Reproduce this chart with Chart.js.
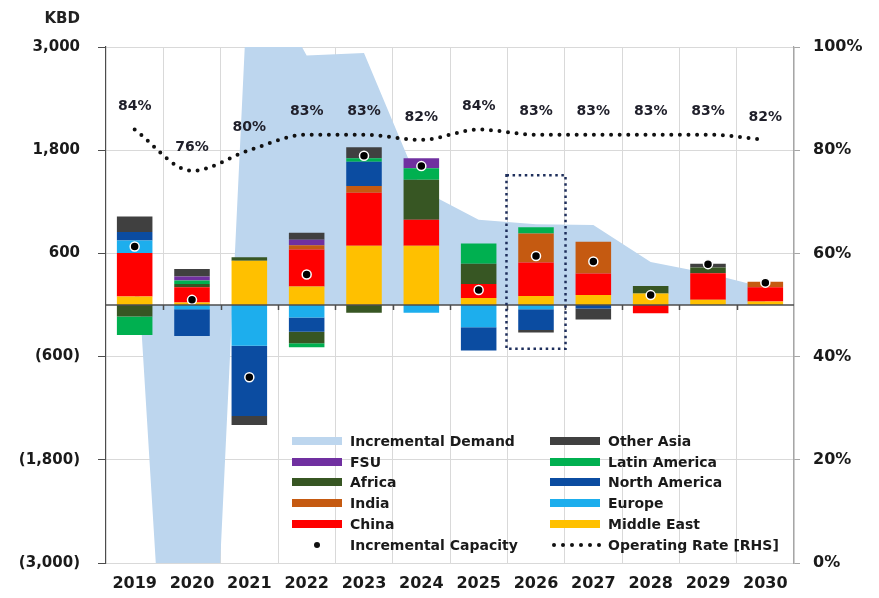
<!DOCTYPE html>
<html>
<head>
<meta charset="utf-8">
<script src="https://cdn.jsdelivr.net/npm/chart.js@4.4.1/dist/chart.umd.min.js"></script>
<style>
  html, body { margin: 0; padding: 0; background: #ffffff; }
  #wrap { position: relative; width: 879px; height: 598px; overflow: hidden; }
  #c { position: absolute; left: 0; top: 0; }
  .unit { position: absolute; right: 799px; top: 9px; font: bold 15px 'DejaVu Sans', sans-serif; color: #222; }
  .lg-text { position: absolute; font: bold 14px 'DejaVu Sans', sans-serif; color: #1a1a1a; white-space: nowrap; line-height: 18px; }
  .lg-sw { position: absolute; width: 50px; height: 8px; }
  .lg-dot { position: absolute; border-radius: 50%; background: #111; }
</style>
</head>
<body>
<div id="wrap">
  <canvas id="c" width="879" height="598"></canvas>
  <div class="unit">KBD</div>
  <div id="legend"></div>
</div>
<script>
// Years on the category axis
const years = ['2019', '2020', '2021', '2022', '2023', '2024', '2025', '2026', '2027', '2028', '2029', '2030'];

// Capacity additions by region, KBD (stacked in this order from the zero line)
const middleEast   = [100,   30,  515,  215,  690,  690,   80,  105,  115,  135,  60,  40];
const china        = [505,  175,    0,  430,  615,  300,  165,  390,  250,  -95, 310, 165];
const europe       = [145,  -50, -475, -145,    0,  -90, -260,  -50,    0,    0,   0,   0];
const india        = [  0,    0,    0,   50,   80,    0,    0,  335,  370,    0,   0,  65];
const northAmerica = [100, -310, -815, -165,  280,    0, -270, -240,  -40,    0,   0,   0];
const africa       = [-135,  40,   40, -135,  -90,  465,  235,    0,    0,   85,  65,   0];
const latinAmerica = [-215,  40,    0,  -45,   40,  135,  235,   75,    0,    0,   0,   0];
const fsu          = [  0,   45,    0,   65,    0,  115,    0,    0,    0,    0,   0,   0];
const otherAsia    = [180,   90, -105,   80,  130,    0,    0,  -30, -130,    0,  45,   0];

// Net capacity change, incremental demand (KBD) and operating rate (%)
const incrementalCapacity = [680, 60, -840, 355, 1735, 1615, 175, 570, 505, 115, 475, 260];
const incrementalDemand   = [1000, -9860, 4120, 2900, 2930, 1340, 990, 940, 930, 500, 370, 200];
const operatingRate       = [84, 76, 80, 83, 83, 82, 84, 83, 83, 83, 83, 82];

// Left and right axis tick values
const kbdTicks = [-3000, -1800, -600, 600, 1800, 3000];
const rateTicks = [0, 20, 40, 60, 80, 100];

// Highlighted year box (KBD range)
const focusYear = '2026';
const focusTop = 1510;
const focusBottom = -510;

const regions = [
  { label: 'Middle East',   data: middleEast,   color: '#ffc000' },
  { label: 'China',         data: china,        color: '#ff0000' },
  { label: 'Europe',        data: europe,       color: '#1daeed' },
  { label: 'India',         data: india,        color: '#c55a11' },
  { label: 'North America', data: northAmerica, color: '#0b4ca1' },
  { label: 'Africa',        data: africa,       color: '#375623' },
  { label: 'Latin America', data: latinAmerica, color: '#00b050' },
  { label: 'FSU',           data: fsu,          color: '#7030a0' },
  { label: 'Other Asia',    data: otherAsia,    color: '#404040' }
];
const demandColor = '#bdd6ee';
const inkColor = '#1a1a1a';
const FONT = "'DejaVu Sans', sans-serif";

const fmtKbd = v => v < 0 ? '(' + Math.abs(v).toLocaleString('en-US') + ')' : v.toLocaleString('en-US');

const datasets = [
  {
    type: 'line', label: 'Incremental Demand', data: incrementalDemand,
    backgroundColor: demandColor, borderColor: demandColor, borderWidth: 0,
    fill: 'origin', pointRadius: 0, tension: 0, order: 5, stack: 'demand', yAxisID: 'y'
  },
  ...regions.map(r => ({
    type: 'bar', label: r.label, data: r.data, backgroundColor: r.color,
    borderWidth: 0, order: 3, stack: 'regions', yAxisID: 'y',
    barPercentage: 0.62, categoryPercentage: 1
  })),
  {
    type: 'line', label: 'Operating Rate [RHS]', data: operatingRate, yAxisID: 'y1',
    borderColor: '#111111', borderWidth: 4, borderDash: [0, 8.6], borderCapStyle: 'round',
    pointRadius: 0, fill: false, cubicInterpolationMode: 'monotone', order: 2, stack: 'rate'
  },
  {
    type: 'line', label: 'Incremental Capacity', data: incrementalCapacity, yAxisID: 'y',
    showLine: false, pointRadius: 4.5, pointBackgroundColor: '#000000',
    pointBorderColor: '#ffffff', pointBorderWidth: 1.5, order: 1, stack: 'capacity'
  }
];

// Zero line with category ticks, the highlight box and the rate labels
const overlays = {
  id: 'overlays',
  afterDatasetsDraw(chart) {
    const { ctx, chartArea, scales } = chart;
    const x = scales.x, y = scales.y;
    const y0 = y.getPixelForValue(0);
    ctx.save();
    ctx.strokeStyle = '#4d4d4d';
    ctx.lineWidth = 1.5;
    ctx.beginPath();
    ctx.moveTo(chartArea.left, y0);
    ctx.lineTo(chartArea.right, y0);
    const step = (chartArea.right - chartArea.left) / years.length;
    for (let i = 1; i < years.length; i++) {
      const bx = Math.round(chartArea.left + i * step) + 0.5;
      ctx.moveTo(bx, y0);
      ctx.lineTo(bx, y0 + 5);
    }
    ctx.stroke();

    // dotted box around the highlighted year
    const fi = years.indexOf(focusYear);
    const cx = x.getPixelForValue(fi);
    const half = step * 0.515;
    ctx.strokeStyle = '#1f2f5c';
    ctx.lineWidth = 2.5;
    ctx.setLineDash([2.5, 3.6]);
    ctx.strokeRect(cx - half, y.getPixelForValue(focusTop), half * 2,
      y.getPixelForValue(focusBottom) - y.getPixelForValue(focusTop));
    ctx.setLineDash([]);

    // operating rate labels
    const meta = chart.getDatasetMeta(chart.data.datasets.findIndex(d => d.label === 'Operating Rate [RHS]'));
    ctx.fillStyle = '#1f1f2a';
    ctx.font = 'bold 14px ' + FONT;
    ctx.textAlign = 'center';
    ctx.textBaseline = 'middle';
    meta.data.forEach((pt, i) => {
      ctx.fillText(operatingRate[i] + '%', pt.x, pt.y - 23);
    });
    ctx.restore();
  }
};

new Chart(document.getElementById('c'), {
  data: { labels: years, datasets },
  options: {
    responsive: false,
    animation: false,
    devicePixelRatio: 1,
    layout: { padding: { top: 47, left: 0, right: 0, bottom: 0 } },
    plugins: { legend: { display: false }, tooltip: { enabled: false } },
    scales: {
      x: {
        stacked: true,
        offset: true,
        grid: { color: '#d9d9d9', offset: true, drawTicks: false },
        border: { display: false },
        ticks: { color: inkColor, font: { family: FONT, size: 16, weight: 'bold' }, padding: 11, maxRotation: 0 },
        afterFit: s => { s.height = 35; }
      },
      y: {
        stacked: true,
        position: 'left',
        min: -3000, max: 3000,
        afterBuildTicks: s => { s.ticks = kbdTicks.map(v => ({ value: v })); },
        grid: { color: '#d9d9d9', tickColor: '#4d4d4d', tickLength: 8 },
        border: { color: '#4d4d4d', width: 1.2 },
        ticks: { color: inkColor, font: { family: FONT, size: 15, weight: 'bold' }, padding: 18, callback: v => fmtKbd(v) },
        afterFit: s => { s.width = 106; }
      },
      y1: {
        position: 'right',
        min: 0, max: 100,
        afterBuildTicks: s => { s.ticks = rateTicks.map(v => ({ value: v })); },
        grid: { drawOnChartArea: false, tickColor: '#a6a6a6', tickLength: 6 },
        border: { color: '#a6a6a6', width: 1.2 },
        ticks: { color: inkColor, font: { family: FONT, size: 16, weight: 'bold' }, padding: 13, callback: v => v + '%' },
        afterFit: s => { s.width = 85; }
      }
    }
  },
  plugins: [overlays]
});

// Two-column legend
const legendRows = [
  [{ label: 'Incremental Demand', color: demandColor }, { label: 'Other Asia' }],
  [{ label: 'FSU' }, { label: 'Latin America' }],
  [{ label: 'Africa' }, { label: 'North America' }],
  [{ label: 'India' }, { label: 'Europe' }],
  [{ label: 'China' }, { label: 'Middle East' }],
  [{ label: 'Incremental Capacity', kind: 'dot' }, { label: 'Operating Rate [RHS]', kind: 'dots' }]
];
const colSwatchX = [292, 550];
const colTextX = [350, 608];
const rowY0 = 441, rowStep = 20.7;
const legend = document.getElementById('legend');
legendRows.forEach((row, r) => {
  const cy = rowY0 + r * rowStep;
  row.forEach((item, c) => {
    const sx = colSwatchX[c];
    if (item.kind === 'dot') {
      const d = document.createElement('div');
      d.className = 'lg-dot';
      Object.assign(d.style, { left: (sx + 22) + 'px', top: (cy - 3) + 'px', width: '6px', height: '6px' });
      legend.appendChild(d);
    } else if (item.kind === 'dots') {
      for (let k = 0; k < 6; k++) {
        const d = document.createElement('div');
        d.className = 'lg-dot';
        Object.assign(d.style, { left: (sx + 2 + k * 9) + 'px', top: (cy - 2) + 'px', width: '4px', height: '4px' });
        legend.appendChild(d);
      }
    } else {
      const reg = regions.find(g => g.label === item.label);
      const sw = document.createElement('div');
      sw.className = 'lg-sw';
      Object.assign(sw.style, { left: sx + 'px', top: (cy - 4) + 'px', background: item.color || reg.color });
      legend.appendChild(sw);
    }
    const t = document.createElement('div');
    t.className = 'lg-text';
    t.textContent = item.label;
    Object.assign(t.style, { left: colTextX[c] + 'px', top: (cy - 9) + 'px' });
    legend.appendChild(t);
  });
});
</script>
</body>
</html>
